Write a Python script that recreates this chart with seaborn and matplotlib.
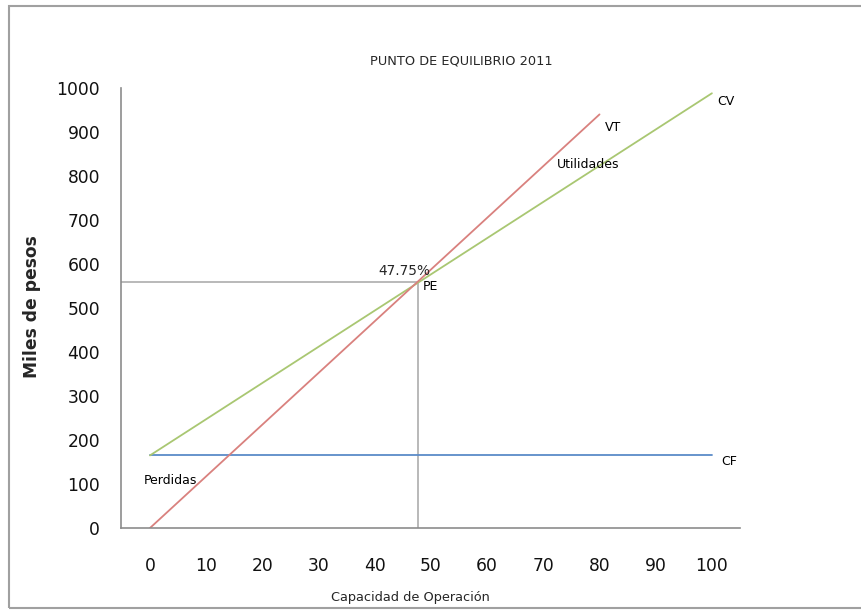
import matplotlib
matplotlib.use("Agg")
import matplotlib.pyplot as plt
import matplotlib.patches as mpatches
import seaborn as sns
import pandas as pd

# Break-even chart data (miles de pesos vs. capacidad de operación)
capacidad = [0, 100]
costo_fijo = [165, 165]
costo_total = [165, 988]
capacidad_vt = [0, 80]
ventas_totales = [0, 940]
pe_capacidad = 47.75
pe_valor = 560
x_ticks = [0, 10, 20, 30, 40, 50, 60, 70, 80, 90, 100]
y_ticks = [0, 100, 200, 300, 400, 500, 600, 700, 800, 900, 1000]

df = pd.concat([
    pd.DataFrame({"x": capacidad, "y": costo_fijo, "serie": "CF"}),
    pd.DataFrame({"x": capacidad, "y": costo_total, "serie": "CV"}),
    pd.DataFrame({"x": capacidad_vt, "y": ventas_totales, "serie": "VT"}),
])

sns.set_style("white")
plt.rcParams["font.family"] = ["DejaVu Sans"]

fig = plt.figure(figsize=(8.61, 6.10), dpi=100)
ax = fig.add_axes([121 / 861, 82 / 610, (740 - 121) / 861, (528 - 88) / 610])

palette = {"CF": "#5B8BC8", "CV": "#A9C772", "VT": "#D9817E"}
sns.lineplot(data=df, x="x", y="y", hue="serie", palette=palette,
             linewidth=1.3, legend=False, ax=ax, estimator=None, sort=False)

# guide lines to the break-even point
ax.plot([-10, pe_capacidad], [pe_valor, pe_valor], color="#A6A6A6", lw=1.1, zorder=1)
ax.plot([pe_capacidad, pe_capacidad], [0, pe_valor], color="#A6A6A6", lw=1.1, zorder=1)

ax.set_xlim(-5.16, 105.0)
ax.set_ylim(0, 1000)
ax.set_xticks(x_ticks)
ax.set_yticks(y_ticks)
ax.tick_params(axis="both", length=0, labelsize=12.3, colors="#111111")
ax.tick_params(axis="x", pad=21)
ax.tick_params(axis="y", pad=15)
ax.set_xlabel("")
ax.set_ylabel("")
for side in ["top", "right"]:
    ax.spines[side].set_visible(False)
for side in ["left", "bottom"]:
    ax.spines[side].set_color("#8C8C8C")
    ax.spines[side].set_linewidth(1.2)

lbl = dict(fontsize=9, color="black")
ax.text(49.9, 584, f"{pe_capacidad:.2f}%", ha="right", va="center", fontsize=9.8)
ax.text(48.6, 548, "PE", ha="left", va="center", **lbl)
ax.text(81, 911, "VT", ha="left", va="center", **lbl)
ax.text(101, 970, "CV", ha="left", va="center", **lbl)
ax.text(72.4, 825, "Utilidades", ha="left", va="center", **lbl)
ax.text(-1.2, 109, "Perdidas", ha="left", va="center", **lbl)
ax.text(101.6, 152, "CF", ha="left", va="center", **lbl)

fig.text(461 / 861, 1 - 61 / 610, "PUNTO DE EQUILIBRIO 2011", ha="center", va="center",
         fontsize=9.3)
fig.text(410 / 861, 1 - 598 / 610, "Capacidad de Operación", ha="center", va="center",
         fontsize=9.3)
fig.text(32 / 861, 1 - 307 / 610, "Miles de pesos", ha="center", va="center",
         rotation=90, fontsize=12.3, fontweight="bold")

# chart-area border
fig.patches.append(mpatches.Rectangle((8.5 / 861, 2 / 610), 1.0, (610 - 7.5) / 610,
                                      transform=fig.transFigure, fill=False,
                                      edgecolor="#A0A0A0", linewidth=1.5))

fig.savefig("out.png", dpi=100)
